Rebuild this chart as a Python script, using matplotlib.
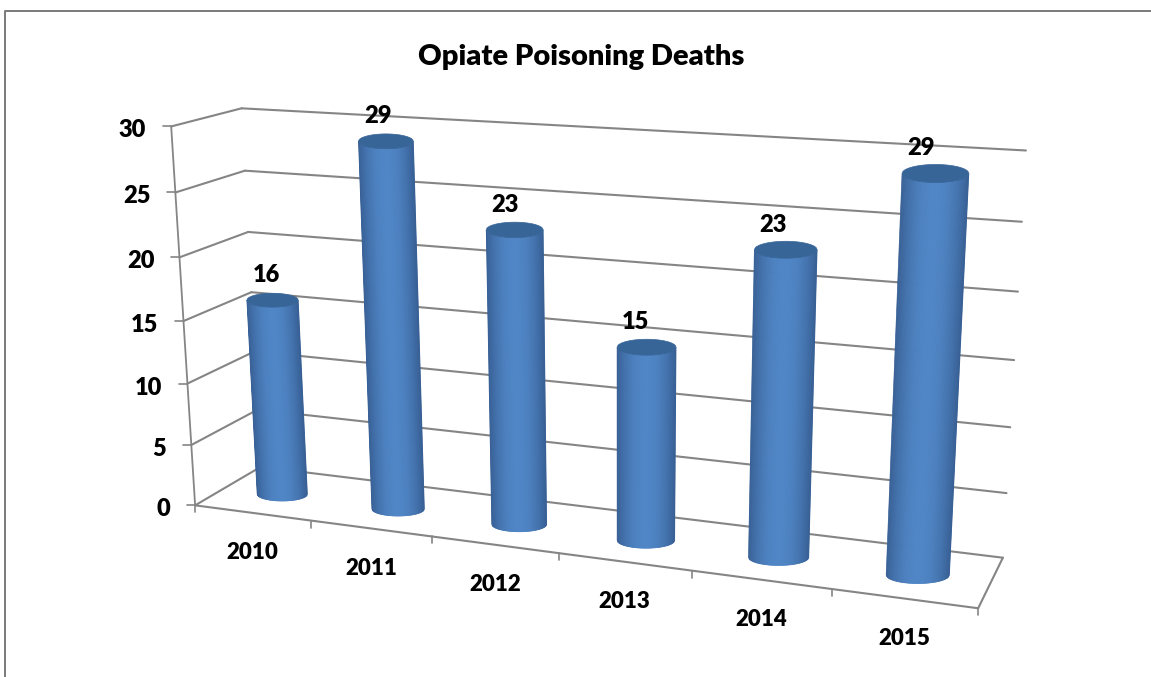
import numpy as np
import matplotlib
matplotlib.use("Agg")
import matplotlib.pyplot as plt

title = "Opiate Poisoning Deaths"
years = ["2010", "2011", "2012", "2013", "2014", "2015"]
deaths = [16, 29, 23, 15, 23, 29]
y_ticks = [0, 5, 10, 15, 20, 25, 30]

plt.rcParams['font.family'] = ['Lato', 'DejaVu Sans']
FONT = dict(fontweight=800, color='black')
GRID = '#858585'

# camera calibration: box corners (category, value, depth) -> picture position
box = np.array([[0, 30, 0], [0, 0, 0], [0, 30, 1], [0, 0, 1], [6, 30, 1], [6, 0, 1], [6, 0, 0],
                [0, 15, 0], [0, 15, 1], [6, 15, 1]], float)
pic = np.array([[172, 126], [194, 506], [241, 108.5], [262, 466], [1026, 150.5], [1003, 558], [978, 608],
                [184, 321], [250.5, 292.7], [1014, 360]], float)


def fit_camera(X, x):
    rows = []
    for (a, b, c), (u, v) in zip(X / [6, 30, 1], x / 1000):
        rows.append([a, b, c, 1, 0, 0, 0, 0, -u * a, -u * b, -u * c, -u])
        rows.append([0, 0, 0, 0, a, b, c, 1, -v * a, -v * b, -v * c, -v])
    return np.linalg.svd(np.array(rows))[2][-1].reshape(3, 4)


CAM = fit_camera(box, pic)


def project(t, v, d):
    q = CAM @ np.array([t / 6, v / 30, d, 1.0])
    return 1000 * q[0] / q[2], 1000 * q[1] / q[2]


fig = plt.figure(figsize=(11.51, 6.77), dpi=100)
ax = fig.add_axes([0, 0, 1, 1])
ax.set_xlim(0, 1151)
ax.set_ylim(677, 0)
ax.axis('off')


def seg(p, q, lw=1.5):
    ax.plot([p[0], q[0]], [p[1], q[1]], color=GRID, lw=lw, solid_capstyle='round', zorder=2)


# outer chart frame
ax.plot([5.5, 5.5, 1151], [677, 10.5, 10.5], color='#7a7a7a', lw=1.4, zorder=1)

# walls, floor and ticks
for v in y_ticks:
    f = project(0, v, 0)
    b = project(0, v, 1)
    r = project(6, v, 1)
    seg(f, b)
    seg(b, r)
    seg(f, (f[0] - 8, f[1]), lw=1.2)
    ax.text(f[0] - 25, f[1] + 4, str(v), ha='right', va='center', fontsize=17, **FONT)
seg(project(0, 0, 0), project(0, 30, 0), lw=1.3)
seg(project(0, 0, 0), project(6, 0, 0))
seg(project(6, 0, 0), project(6, 0, 1))
for i in range(7):
    p = project(i, 0, 0)
    seg(p, (p[0], p[1] + 7), lw=1.2)

# cylinders
C_EDGE = np.array([0x38, 0x60, 0x95]) / 255
C_MID = np.array([0x50, 0x86, 0xC6]) / 255
C_TOP = '#386598'
RADIUS_T = 0.22
DEPTH = 0.46
FLAT = 0.27
s = np.linspace(-1, 1, 81)
arc = np.sqrt(1 - s ** 2)


def half_width(t, v):
    a = project(t - RADIUS_T, v, DEPTH)
    b = project(t + RADIUS_T, v, DEPTH)
    return np.hypot(b[0] - a[0], b[1] - a[1]) / 2


for i, (yr, val) in enumerate(zip(years, deaths)):
    ct = i + 0.5
    bx, by = project(ct, 0, DEPTH)
    tx, ty = project(ct, val, DEPTH)
    hb, ht = half_width(ct, 0), half_width(ct, val)
    xb = bx + s * hb
    yb = by + arc * hb * FLAT
    xt = tx + s * ht
    yt = ty + arc * ht * FLAT
    for k in range(len(s) - 1):
        u = abs(s[k] + s[k + 1]) / 2
        col = C_EDGE + (C_MID - C_EDGE) * (1 - u ** 2.0)
        ax.fill([xb[k], xb[k + 1], xt[k + 1], xt[k]], [yb[k], yb[k + 1], yt[k + 1], yt[k]],
                facecolor=col, edgecolor=col, lw=0.5, zorder=3)
    ax.fill(np.r_[xt, xt[::-1]], np.r_[yt, ty - arc[::-1] * ht * FLAT],
            facecolor=C_TOP, edgecolor=C_TOP, lw=0.5, zorder=4)
    ax.text(tx - 6 - 1.7 * i, ty - 25, str(val), ha='center', va='center', fontsize=17, zorder=5, **FONT)
    fx, fy = project(ct, 0, 0)
    ax.text(fx, fy + 40, yr, ha='center', va='center', fontsize=16, zorder=5, **FONT)

ax.text(581, 57, title, ha='center', va='center', fontsize=21, **FONT)
fig.savefig('out.png', dpi=100)
